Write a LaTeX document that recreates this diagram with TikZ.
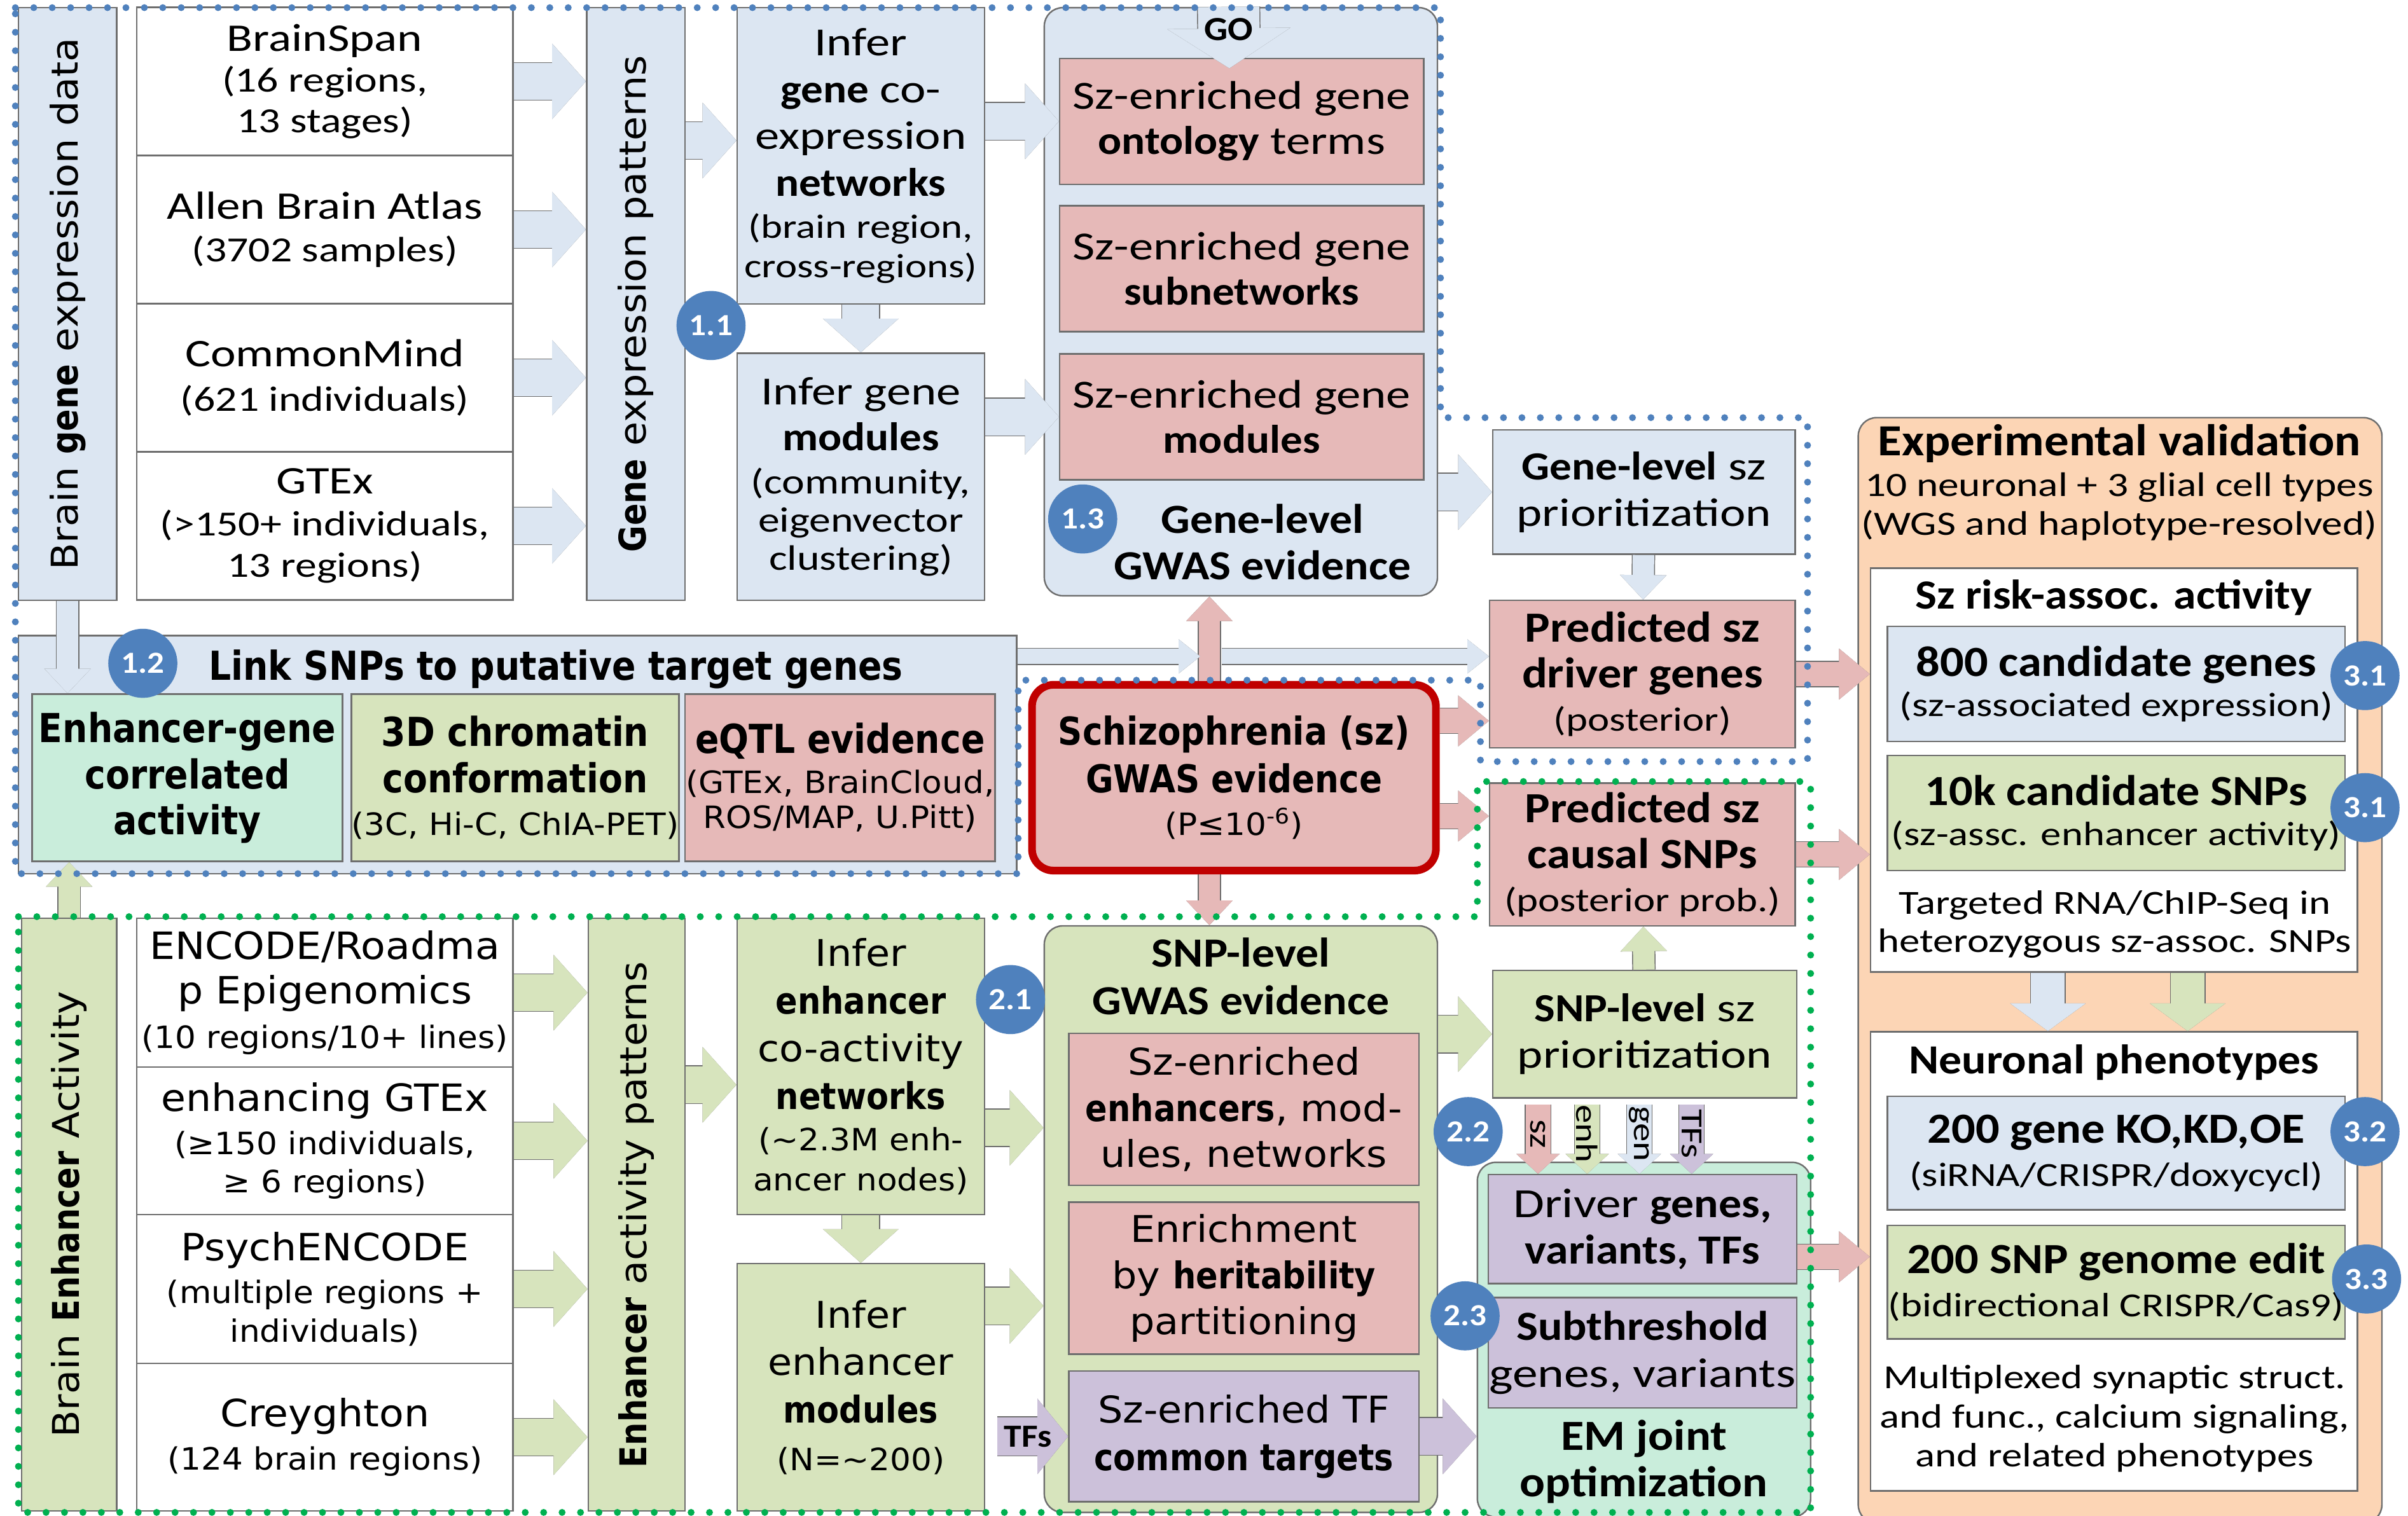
\documentclass[tikz,border=0pt]{standalone}
\usepackage{fontspec}
\setmainfont{Carlito}[UprightFeatures={FakeStretch=1.22},BoldFeatures={FakeStretch=1.1}]
\newfontfamily\verdf{DejaVu Sans}[UprightFeatures={FakeStretch=1.07},BoldFeatures={FakeStretch=0.88}]
\usetikzlibrary{arrows.meta}

\definecolor{lblue}{HTML}{DCE6F2}
\definecolor{lpink}{HTML}{E6B9B8}
\definecolor{lgreen}{HTML}{D7E4BD}
\definecolor{lpurple}{HTML}{CCC1DA}
\definecolor{lmint}{HTML}{C9EDDB}
\definecolor{lorange}{HTML}{FCD5B5}
\definecolor{badgeblue}{HTML}{4F81BD}
\definecolor{dotblue}{HTML}{4F81BD}
\definecolor{dotgreen}{HTML}{00B050}
\definecolor{szred}{HTML}{C00000}
\definecolor{edge}{HTML}{6E6E6E}

\newcommand\cf[2]{\fontsize{#1}{#2}\selectfont}
\newcommand\vf[2]{\verdf\fontsize{#1}{#2}\selectfont}

\tikzset{
  box/.style={draw=edge, line width=1pt, inner sep=0pt, align=center},
  txt/.style={inner sep=0pt, align=center},
  dims/.style 2 args={minimum width=#1pt, minimum height=#2pt},
  srcbox/.style={box, fill=white},
  bluebox/.style={box, fill=lblue},
  pinkbox/.style={box, fill=lpink},
  greenbox/.style={box, fill=lgreen},
  purplebox/.style={box, fill=lpurple},
  mintbox/.style={box, fill=lmint},
  panel/.style={box, rounded corners=12pt},
  badge/.style={circle, fill=badgeblue, text=white, inner sep=0pt, minimum size=45pt, font=\bfseries\cf{20}{20}},
  blk/.style n args={5}{draw=#1, line width=#2pt,
    -{Triangle[length=#5pt, width=#4pt, color=#1, line width=1.2pt]},
    preaction={draw=edge, line width=#3pt,
      -{Triangle[length=#5pt, width=#4pt, color=edge, fill=#1, line width=1.2pt]}}},
  bigarrow/.style={blk={#1}{24}{25.2}{49}{22}},
  midarrow/.style={blk={#1}{16}{17.2}{33}{20}},
  smallarrow/.style={blk={#1}{14}{15.2}{30}{16}},
  thinarrow/.style={blk={#1}{10}{11.2}{22}{14}},
  tagarrow/.style={blk={#1}{16}{17.2}{28}{13}},
  dotline/.style={draw=#1, line width=4.5pt, line cap=round, dash pattern=on 0pt off 12pt},
}

\begin{document}
\begin{tikzpicture}[x=1pt,y=-1pt]
\useasboundingbox (0,0) rectangle (1568,987);
\fill[white] (0,0) rectangle (1568,987);

% panels
\node[panel, fill=lblue, dims={256}{383}] (gwasgene) at (808,196.5) {};
\node[panel, fill=lgreen, dims={256}{382}] (gwassnp) at (808,794) {};
\node[panel, fill=lmint, dims={217}{231}] (em) at (1070.5,872.5) {};
\node[panel, fill=lorange, dims={341}{720}] (expval) at (1380.5,632) {};
\node[bluebox, dims={650}{155}] (band) at (337,491.5) {};

% gene expression side
\node[bluebox, dims={64}{386}] (gexp) at (44,198) {};
\node[txt, rotate=90, font=\vf{24}{28}] (gexptxt) at (gexp) {Brain \textbf{gene} expression data};
\node[srcbox, dims={245}{96.5}, font=\cf{25.5}{26.5}] (bspan) at (211.5,53) {BrainSpan\\ \cf{23}{26.5}(16 regions,\\ \cf{23}{26.5}13 stages)};
\node[srcbox, dims={245}{96.5}, font=\cf{25.5}{28}] (allen) at (211.5,149.5) {Allen Brain Atlas\\ \cf{23}{26.5}(3702 samples)};
\node[srcbox, dims={245}{96.5}, font=\cf{25.5}{29}] (cmind) at (211.5,246) {CommonMind\\ \cf{23}{26.5}(621 individuals)};
\node[srcbox, dims={245}{96.5}, font=\cf{25.5}{27}] (gtex) at (211.5,342.5) {GTEx\\ \cf{23}{26.5}(>150+ individuals,\\ \cf{23}{26.5}13 regions)};
\node[bluebox, dims={64}{386}] (gpat) at (414,198) {};
\node[txt, rotate=90, font=\vf{24}{28}] (gpattxt) at (gpat) {\textbf{Gene} expression patterns};
\node[bluebox, dims={161}{193}, font=\cf{26}{30.5}] (gnet) at (560.5,101.5) {Infer\\ \textbf{gene} co-\\ expression\\ \textbf{networks}\\[-3pt] \cf{22}{25}(brain region,\\[-5pt] \cf{22}{25}cross-regions)};
\node[bluebox, dims={161}{161}, font=\cf{26}{30}] (gmod) at (560.5,310.5) {Infer gene\\ \textbf{modules}\\[-2pt] \cf{23}{25}(community,\\[-5pt] \cf{23}{25}eigenvector\\[-5pt] \cf{23}{25}clustering)};
\node[pinkbox, dims={237}{82}, font=\cf{26}{29.5}] (onto) at (808.5,79) {Sz-enriched gene\\ \textbf{ontology} terms};
\node[pinkbox, dims={237}{82}, font=\cf{26}{29.5}] (subn) at (808.5,175) {Sz-enriched gene\\ \textbf{subnetworks}};
\node[pinkbox, dims={237}{82}, font=\cf{26}{29.5}] (gmodsz) at (808.5,271.5) {Sz-enriched gene\\ \textbf{modules}};
\node[txt, font=\bfseries\cf{27}{30}] (gwasgenetxt) at (822,353) {Gene-level\\ GWAS evidence};
\node[bluebox, dims={197}{81}, font=\cf{26}{30}] (gprio) at (1070.5,320.5) {\textbf{Gene-level} sz\\ prioritization};
\node[pinkbox, dims={199}{96}, font=\cf{28}{30}] (driver) at (1069.5,439) {\textbf{Predicted sz}\\ \textbf{driver genes}\\[-2pt] \cf{22}{26}(posterior)};
\node[pinkbox, dims={199}{93}, font=\cf{28}{30}] (causal) at (1069.5,556.5) {\textbf{Predicted sz}\\ \textbf{causal SNPs}\\[-2pt] \cf{22}{26}(posterior prob.)};

% linking SNPs to genes
\node[txt, font=\verdf\bfseries\cf{26}{26}] (bandtxt) at (362,436) {Link SNPs to putative target genes};
\node[mintbox, dims={202}{109}, font=\vf{26}{30}] (egene) at (122,506.5) {\textbf{Enhancer-gene}\\ \textbf{correlated}\\ \textbf{activity}};
\node[greenbox, dims={201}{109}, font=\vf{26}{30}] (chrom) at (335.5,506.5) {\textbf{3D chromatin}\\ \textbf{conformation}\\[-2pt] \vf{20}{24}(3C, Hi-C, ChIA-PET)};
\node[pinkbox, dims={202}{109}, font=\vf{26}{26}] (eqtl) at (547,506.5) {\textbf{eQTL evidence}\\ \vf{20}{24}(GTEx, BrainCloud,\\[-3pt] \vf{20}{24}ROS/MAP, U.Pitt)};
\node[box, draw=szred, line width=5pt, rounded corners=14pt, fill=lpink, dims={263}{121}, font=\vf{25}{31}] (schizo) at (803.5,506.5) {\textbf{Schizophrenia (sz)}\\ \textbf{GWAS evidence}\\[-3pt] \vf{20}{24}(P≤10\textsuperscript{-6})};

% enhancer side
\node[greenbox, dims={62}{386}] (eact) at (45,791) {};
\node[txt, rotate=90, font=\vf{24}{28}] (eacttxt) at (eact) {Brain \textbf{Enhancer} Activity};
\node[srcbox, dims={245}{97}, font=\vf{24.5}{29}] (encode) at (211.5,646.5) {ENCODE/Roadma\\ p Epigenomics\\ \vf{20}{24}(10 regions/10+ lines)};
\node[srcbox, dims={245}{96}, font=\vf{24.5}{28}] (egtex) at (211.5,743) {enhancing GTEx\\ \vf{20}{24}(≥150 individuals,\\[-3pt] \vf{20}{24}≥ 6 regions)};
\node[srcbox, dims={245}{97}, font=\vf{24.5}{28}] (psych) at (211.5,839.5) {PsychENCODE\\ \vf{20}{24}(multiple regions +\\[-3pt] \vf{20}{24}individuals)};
\node[srcbox, dims={245}{96}, font=\vf{24.5}{28}] (crey) at (211.5,936) {Creyghton\\ \vf{20}{24}(124 brain regions)};
\node[greenbox, dims={63}{386}] (epat) at (414.5,791) {};
\node[txt, rotate=90, font=\vf{24}{28}] (epattxt) at (epat) {\textbf{Enhancer} activity patterns};
\node[greenbox, dims={161}{193}, font=\vf{24}{31}] (enet) at (560.5,694.5) {Infer\\ \textbf{enhancer}\\ co-activity\\ \textbf{networks}\\[-4pt] \vf{20}{24}(\textasciitilde2.3M enh-\\[-5pt] \vf{20}{24}ancer nodes)};
\node[greenbox, dims={161}{161}, font=\vf{24}{31}] (emod) at (560.5,903.5) {Infer\\ enhancer\\ \textbf{modules}\\ \vf{20}{24}(N=\textasciitilde200)};
\node[txt, font=\bfseries\cf{27}{31}] (gwassnptxt) at (808,636) {SNP-level\\ GWAS evidence};
\node[pinkbox, dims={228}{99}, font=\vf{24}{30}] (enh) at (810,722.5) {Sz-enriched\\ \textbf{enhancers}, mod-\\ ules, networks};
\node[pinkbox, dims={228}{99}, font=\vf{24}{30}] (herit) at (810,832.5) {Enrichment\\ by \textbf{heritability}\\ partitioning};
\node[purplebox, dims={228}{85}, font=\vf{24}{31}] (tft) at (810,935.5) {Sz-enriched TF\\ \textbf{common targets}};
\node[greenbox, dims={198}{83}, font=\cf{26}{30}] (sprio) at (1071,673.5) {\textbf{SNP-level} sz\\ prioritization};
\node[purplebox, dims={201}{71}, font=\cf{27}{30}] (drv) at (1069.5,800.5) {Driver \textbf{genes,}\\ \textbf{variants, TFs}};
\node[purplebox, dims={201}{72}, font=\cf{27}{31}] (sub) at (1069.5,881) {\textbf{Subthreshold}\\ genes, variants};
\node[txt, font=\bfseries\cf{28}{30}] (emtxt) at (1070.5,952) {EM joint\\ optimization};

% experimental validation
\node[txt, font=\bfseries\cf{29}{30}] (exptitle) at (1380,289) {Experimental validation};
\node[txt, font=\cf{22.2}{25.5}] (expsub) at (1380,330) {10 neuronal + 3 glial cell types\\ (WGS and haplotype-resolved)};
\node[srcbox, dims={317}{263}] (riskbox) at (1376.5,501.5) {};
\node[txt, font=\bfseries\cf{27}{30}] (risktitle) at (1376.5,389) {Sz risk-assoc. activity};
\node[bluebox, dims={298}{75}, font=\cf{28}{26}] (cgenes) at (1378,445.5) {\textbf{800 candidate genes}\\ \cf{22}{26}(sz-associated expression)};
\node[greenbox, dims={298}{75}, font=\cf{28}{26}] (csnps) at (1378,529.5) {\textbf{10k candidate SNPs}\\ \cf{22}{26}(sz-assc. enhancer activity)};
\node[txt, font=\cf{22}{25}] (rnatxt) at (1377,602) {Targeted RNA/ChIP-Seq in\\ heterozygous sz-assoc. SNPs};
\node[srcbox, dims={317}{299}] (pheno) at (1376.5,821.5) {};
\node[txt, font=\bfseries\cf{27}{30}] (phenotitle) at (1376.5,692) {Neuronal phenotypes};
\node[bluebox, dims={298}{74}, font=\cf{28}{28}] (kokd) at (1378,751) {\textbf{200 gene KO,KD,OE}\\ \cf{22}{26}(siRNA/CRISPR/doxycycl)};
\node[greenbox, dims={298}{74}, font=\cf{28}{28}] (gedit) at (1378,835) {\textbf{200 SNP genome edit}\\ \cf{22}{26}(bidirectional CRISPR/Cas9)};
\node[txt, font=\cf{22}{25.5}] (multitxt) at (1377,924) {Multiplexed synaptic struct.\\ and func., calcium signaling,\\ and related phenotypes};

% block arrows
\foreach \s in {bspan,allen,cmind,gtex}
  \draw[bigarrow=lblue] (\s) -- (\s -| gpat.west);
\foreach \s in {encode,egtex,psych,crey}
  \draw[bigarrow=lgreen] (\s) -- (\s -| epat.west);
\coordinate (gin) at ([yshift=10pt]gnet.west);
\draw[bigarrow=lblue] (gpat.east |- gin) -- (gin);
\draw[bigarrow=lblue] (gnet.east |- onto.west) -- (onto.west);
\draw[bigarrow=lblue] (gnet) -- (gmod);
\draw[bigarrow=lblue] (gmod.east |- gmodsz.west) -- (gmodsz.west);
\draw[bigarrow=lblue] (gwasgene.east |- gprio.west) -- (gprio.west);
\draw[smallarrow=lblue] (gprio) -- (driver);
\coordinate (gosrc) at ([xshift=-8pt]gwasgene.north);
\draw[blk={lblue}{40}{41.2}{80}{26}] (gosrc) -- ([xshift=-8pt,yshift=-7pt]onto.north)
  node[pos=0.37, font=\bfseries\cf{22}{22}] (golbl) {GO};

\coordinate (szup) at ([xshift=-16pt]schizo.north);
\coordinate (szdn) at ([xshift=-16pt]schizo.south);
\coordinate (szhi) at ([yshift=37pt]schizo.east);
\coordinate (szlo) at ([yshift=-25pt]schizo.east);
\draw[smallarrow=lpink] (szup) -- (szup |- gwasgene.south);
\draw[smallarrow=lpink] (szdn) -- (szdn |- gwassnp.north);
\draw[midarrow=lpink] (szhi) -- (szhi -| driver.west);
\draw[midarrow=lpink] (szlo) -- (szlo -| causal.west);
\coordinate (lk) at ([yshift=-14pt]band.north east);
\coordinate (lkmid) at (lk -| szup);
\draw[thinarrow=lblue] (lk) -- ([xshift=-6pt]lkmid);
\draw[thinarrow=lblue] ([xshift=8pt]lkmid) -- (lkmid -| driver.west);
\draw[smallarrow=lblue] (gexp.south) -- (gexp.south |- egene.north);
\draw[smallarrow=lgreen] (eact.north) -- (eact.north |- egene.south);

\coordinate (ein) at ([yshift=-12pt]enet.west);
\draw[bigarrow=lgreen] (epat.east |- ein) -- (ein);
\draw[bigarrow=lgreen] (enet) -- (emod);
\coordinate (eout) at ([yshift=-40pt]enet.east);
\draw[bigarrow=lgreen] (eout) -- (eout -| gwassnp.west);
\coordinate (mout) at ([yshift=53pt]emod.east);
\draw[bigarrow=lgreen] (mout) -- (mout -| gwassnp.west);
\draw[bigarrow=lgreen] (gwassnp.east |- sprio.west) -- (sprio.west);
\draw[smallarrow=lgreen] (sprio) -- (causal);
\draw[bigarrow=lpurple] (tft.east) -- (tft.east -| em.west);
\coordinate (tfsrc) at ([xshift=-46pt]tft.west);
\draw[blk={lpurple}{25}{26.2}{49}{20}] (tfsrc) -- (tft.west)
  node[pos=0.43, font=\bfseries\cf{21}{21}] (tflbl) {TFs};
\foreach \dx/\tg/\clr in {-68/sz/lpink,-36/enh/lgreen,-2/gen/lblue,32/TFs/lpurple}{
  \coordinate (tag\tg) at ([xshift=\dx pt,yshift=45pt]drv.north);
  \draw[tagarrow=\clr] (tag\tg) -- (tag\tg |- drv.north)
    node[pos=0.42, rotate=-90, font=\cf{20}{20}] {\tg};
}

\draw[midarrow=lpink] (driver.east) -- (driver.east -| riskbox.west);
\draw[midarrow=lpink] (causal.east) -- (causal.east -| riskbox.west);
\coordinate (drvout) at ([yshift=-18pt]drv.east);
\draw[midarrow=lpink] (drvout) -- (drvout -| pheno.west);
\coordinate (ra) at ([xshift=-43pt]riskbox.south);
\coordinate (rb) at ([xshift=48pt]riskbox.south);
\draw[blk={lblue}{22}{23.2}{49}{18}] (ra) -- (ra |- pheno.north);
\draw[blk={lgreen}{22}{23.2}{49}{18}] (rb) -- (rb |- pheno.north);

% step badges
\node[badge] (b11) at (463,212) {1.1};
\node[badge] (b12) at (93,432) {1.2};
\node[badge] (b13) at (705,338) {1.3};
\node[badge] (b21) at (658,651) {2.1};
\node[badge] (b22) at (956,737) {2.2};
\node[badge] (b23) at (954,857) {2.3};
\node[badge] (b31a) at (1540,440) {3.1};
\node[badge] (b31b) at (1540,526) {3.1};
\node[badge] (b32) at (1540,737) {3.2};
\node[badge] (b33) at (1541,833) {3.3};

% dotted frames
\draw[dotline=dotblue] (10,5) -- (938,5) -- (938,272) -- (1177,272) -- (1177,496) -- (964,496)
  -- (964,443) -- (663,443) -- (663,569) -- (10,569) -- cycle;
\draw[dotline=dotgreen] (12,597) -- (962,597) -- (962,509) -- (1179,509) -- (1179,985)
  -- (12,985) -- cycle;
\end{tikzpicture}
\end{document}
